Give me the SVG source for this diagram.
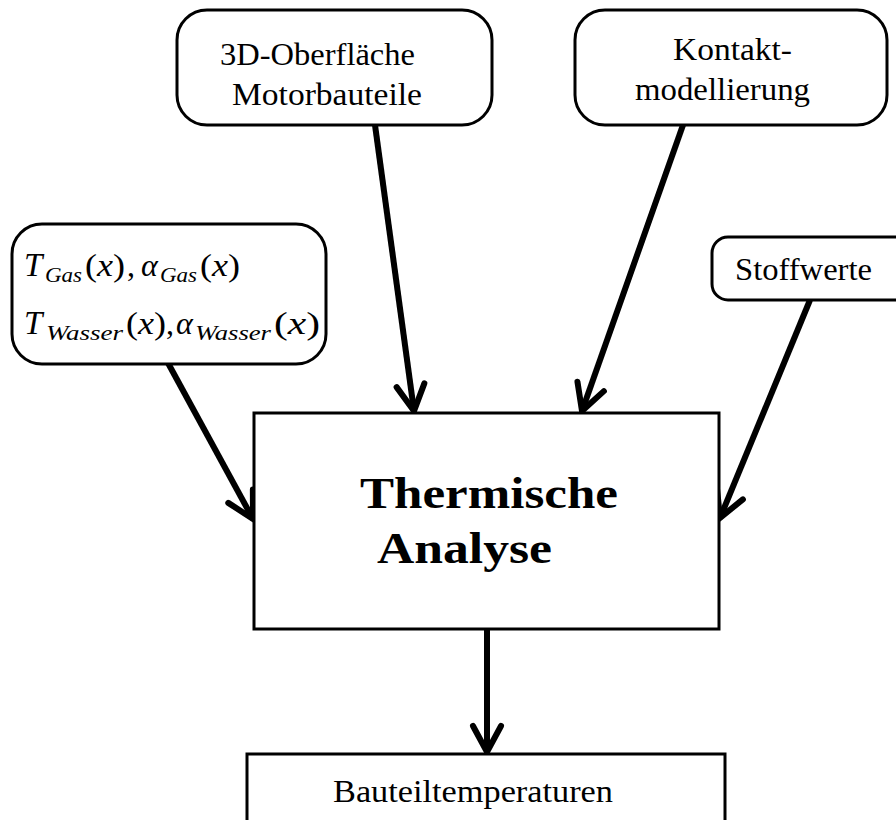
<svg xmlns="http://www.w3.org/2000/svg" width="896" height="820" viewBox="0 0 896 820">
  <style>
    .box { fill: #fff; stroke: #000; stroke-width: 3; }
    text { font-family: 'Liberation Serif', 'Times New Roman', serif; font-size: 31px; fill: #000; }
    .bold { font-weight: bold; font-size: 44px; }
    .it { font-style: italic; }
    .sub { font-style: italic; font-size: 22px; }
    .edge { fill: none; stroke: #000; stroke-width: 6; marker-end: url(#chev); }
  </style>
  <defs>
    <!-- open chevron arrowhead -->
    <marker id="chev" markerUnits="userSpaceOnUse" markerWidth="40" markerHeight="40" viewBox="-30 -20 34 40" refX="0" refY="0" orient="auto" overflow="visible">
      <path d="M -26,-14 L 0,0 L -26,14" fill="none" stroke="#000" stroke-width="6" stroke-linejoin="miter" stroke-linecap="round"/>
    </marker>
  </defs>
  <rect width="896" height="820" fill="#fff"/>

  <g id="connectors">
    <line class="edge" x1="168" y1="363" x2="253" y2="519"/>
    <line class="edge" x1="375" y1="125" x2="414" y2="411"/>
    <line class="edge" x1="683" y1="125" x2="582" y2="411"/>
    <line class="edge" x1="810" y1="300" x2="720" y2="518"/>
    <line class="edge" x1="487" y1="629" x2="487" y2="752"/>
  </g>

  <g id="randbedingungen">
    <rect class="box" x="12" y="224" width="314" height="140" rx="30"/>
    <text><tspan class="it" x="24" y="276" font-size="33">T</tspan><tspan class="sub" x="45" y="282" textLength="37" lengthAdjust="spacingAndGlyphs">Gas</tspan><tspan x="85" y="276" font-size="32" textLength="40" lengthAdjust="spacingAndGlyphs">(<tspan class="it">x</tspan>)</tspan><tspan x="127" y="276" font-size="32">,</tspan><tspan class="it" x="141" y="276" font-size="32">α</tspan><tspan class="sub" x="160" y="282" textLength="37" lengthAdjust="spacingAndGlyphs">Gas</tspan><tspan x="200" y="276" font-size="32" textLength="40" lengthAdjust="spacingAndGlyphs">(<tspan class="it">x</tspan>)</tspan></text>
    <text><tspan class="it" x="24" y="334" font-size="33">T</tspan><tspan class="sub" x="46" y="340" textLength="77" lengthAdjust="spacingAndGlyphs">Wasser</tspan><tspan x="126" y="334" font-size="32" textLength="40" lengthAdjust="spacingAndGlyphs">(<tspan class="it">x</tspan>)</tspan><tspan x="166" y="334" font-size="32">,</tspan><tspan class="it" x="176" y="334" font-size="32">α</tspan><tspan class="sub" x="195" y="340" textLength="76" lengthAdjust="spacingAndGlyphs">Wasser</tspan><tspan x="274" y="334" font-size="32" textLength="46" lengthAdjust="spacingAndGlyphs">(<tspan class="it">x</tspan>)</tspan></text>
  </g>

  <g id="oberflaeche">
    <rect class="box" x="177" y="10" width="315" height="115" rx="30"/>
    <text x="220" y="65" textLength="195" lengthAdjust="spacingAndGlyphs">3D-Oberfläche</text>
    <text x="232" y="105" textLength="190" lengthAdjust="spacingAndGlyphs">Motorbauteile</text>
  </g>

  <g id="kontakt">
    <rect class="box" x="575" y="10" width="312" height="115" rx="30"/>
    <text x="673" y="60" textLength="119" lengthAdjust="spacingAndGlyphs">Kontakt-</text>
    <text x="635" y="100" textLength="175" lengthAdjust="spacingAndGlyphs">modellierung</text>
  </g>

  <g id="stoffwerte">
    <rect class="box" x="712" y="237" width="200" height="63" rx="16"/>
    <text x="735" y="280" textLength="137" lengthAdjust="spacingAndGlyphs">Stoffwerte</text>
  </g>

  <g id="analyse">
    <rect class="box" x="254" y="413" width="465" height="216"/>
    <text class="bold" x="360" y="508" textLength="258" lengthAdjust="spacingAndGlyphs">Thermische</text>
    <text class="bold" x="377" y="563" textLength="175" lengthAdjust="spacingAndGlyphs">Analyse</text>
  </g>

  <g id="bauteiltemperaturen">
    <rect class="box" x="247" y="754" width="478" height="80"/>
    <text x="333" y="802" textLength="280" lengthAdjust="spacingAndGlyphs">Bauteiltemperaturen</text>
  </g>
</svg>
